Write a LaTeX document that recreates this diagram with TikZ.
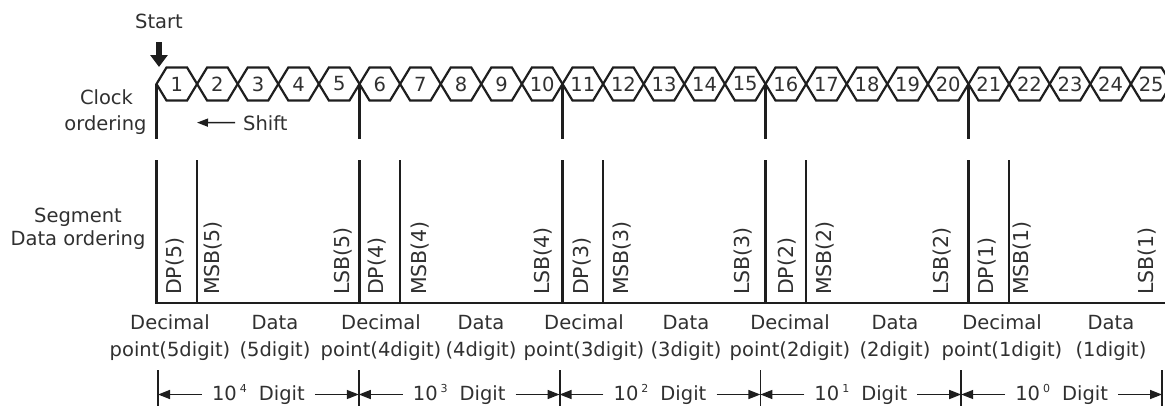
\documentclass[tikz,border=0pt]{standalone}
\usepackage{fontspec}
\setmainfont{DejaVu Sans}
\usetikzlibrary{arrows.meta,calc}
\definecolor{ink}{HTML}{1E1E1E}
\definecolor{txt}{HTML}{303030}
\newcommand\supdig[1]{\hspace{3pt}\raisebox{7.5pt}{\fontsize{11}{11}\selectfont #1}}
\begin{document}
\begin{tikzpicture}[x=1pt,y=-1pt,
  lbl/.style={font=\fontsize{19.5}{23}\selectfont, text=txt, inner sep=0pt},
  num/.style={lbl},
  rot/.style={lbl, font=\fontsize{20.5}{23}\selectfont, rotate=90, anchor=west},
  hexline/.style={draw=ink, line width=2.2pt, line join=miter},
  vline/.style={draw=ink, line width=2.2pt},
  tick/.style={draw=ink, line width=1.8pt},
  dim/.style={lbl, inner xsep=10pt},
  dimarrow/.style={draw=ink, line width=1.5pt, -{Triangle[length=12pt,width=9pt]}},
]
\useasboundingbox (0,0) rectangle (1165,405);
\clip (0,0) rectangle (1165,405);

% clock hexagons
\foreach \i in {1,...,25}{
  \pgfmathsetmacro\xa{156.5+40.6*(\i-1)}
  \draw[hexline] (\xa,84) -- ++(10,-16.5) -- ++(20.6,0) -- ++(10,16.5) -- ++(-10,16.5) -- ++(-20.6,0) -- cycle;
  \node[num] (h\i) at (\xa+20.3,84) {\i};
}

% start
\node[lbl, anchor=base] (start) at (159,28) {Start};
\coordinate (startTip) at (159,67);
\draw[draw=ink, line width=6.5pt, -{Triangle[length=12pt,width=17pt]}] ([yshift=-14pt]start.south) -- (startTip);

% left labels
\node[lbl, anchor=base] (clk1) at (106.5,104) {Clock};
\node[lbl, anchor=base] (clk2) at (105.5,130) {ordering};
\node[lbl, anchor=base] (seg1) at (78,222) {Segment};
\node[lbl, anchor=base] (seg2) at (78,245) {Data ordering};

% shift
\node[lbl, anchor=base west] (shift) at (243,130) {Shift};
\coordinate (shiftTip) at (197,122.6);
\draw[draw=ink, line width=1.5pt, -{Triangle[length=11pt,width=8pt]}] ([xshift=-8pt]shift.west) -- (shiftTip);

% clock vertical lines
\foreach \k in {0,5,10,15,20}
  \draw[vline] (156.5+40.6*\k,84) -- (156.5+40.6*\k,139);

% segment lines
\foreach \k in {0,...,4}{
  \pgfmathsetmacro\xd{156.5+203*\k}
  \draw[vline] (\xd,160) -- (\xd,303);
  \draw[vline] (\xd+40.6,160) -- (\xd+40.6,303);
}
\draw[vline] (155.4,303) -- (1166,303);

% rotated labels
\foreach \x/\t [count=\n] in {175/{DP(5)}, 213/{MSB(5)}, 343/{LSB(5)}, 377/{DP(4)}, 420/{MSB(4)}, 543/{LSB(4)}, 582/{DP(3)}, 622/{MSB(3)}, 743/{LSB(3)}, 787/{DP(2)}, 825/{MSB(2)}, 942/{LSB(2)}, 987/{DP(1)}, 1022/{MSB(1)}, 1147/{LSB(1)}}
  \node[rot] (r\n) at (\x,295) {\t};

% bottom labels
\foreach \x/\a/\b [count=\n] in {170/Decimal/{point(5digit)}, 275/Data/{(5digit)}, 381/Decimal/{point(4digit)}, 481/Data/{(4digit)}, 584/Decimal/{point(3digit)}, 686/Data/{(3digit)}, 790/Decimal/{point(2digit)}, 895/Data/{(2digit)}, 1002/Decimal/{point(1digit)}, 1111/Data/{(1digit)}}{
  \node[lbl, anchor=base] (la\n) at (\x,329) {\a};
  \node[lbl, anchor=base] (lb\n) at (\x,356) {\b};
}

% dimension row
\foreach \i/\x in {0/158,1/358.8,2/559.6,3/760.4,4/961.2,5/1162}{
  \coordinate (t\i) at (\x,394.5);
  \draw[tick] (\x,370) -- (\x,406);
}
\foreach \i/\e in {1/4,2/3,3/2,4/1,5/0}{
  \pgfmathtruncatemacro\j{\i-1}
  \node[dim] (d\i) at ($(t\j)!0.5!(t\i)$) {10\supdig{\e}\hspace{12pt}Digit};
  \draw[dimarrow] (d\i.west) -- (d\i.west -| t\j);
  \draw[dimarrow] (d\i.east) -- (d\i.east -| t\i);
}
\end{tikzpicture}
\end{document}
